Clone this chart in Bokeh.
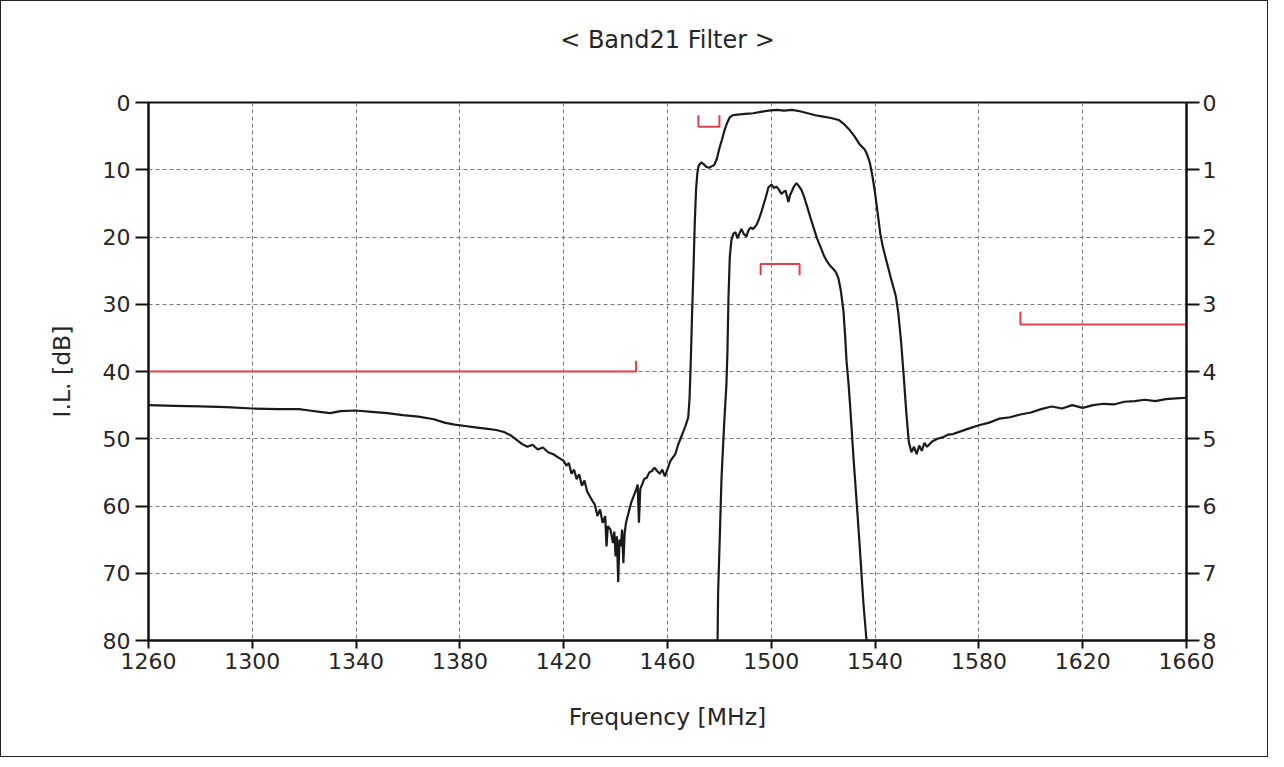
from bokeh.plotting import figure
from bokeh.models import Range1d, LinearAxis, FixedTicker
from bokeh.embed import file_html
from bokeh.resources import INLINE

# ---------------- data ----------------
x_ticks = [1260, 1300, 1340, 1380, 1420, 1460, 1500, 1540, 1580, 1620, 1660]
left_ticks = [0, 10, 20, 30, 40, 50, 60, 70, 80]
right_ticks = [0, 1, 2, 3, 4, 5, 6, 7, 8]

wide_freq = [1260, 1270, 1280, 1290, 1300, 1310, 1318, 1322, 1326, 1330, 1334, 1340, 1346, 1352,
             1358, 1364, 1370, 1374, 1378, 1382, 1386, 1390, 1394, 1397, 1400, 1402, 1404, 1406,
             1408, 1410, 1412, 1414, 1416, 1418, 1420, 1421, 1422, 1423, 1424, 1425, 1426, 1427,
             1428, 1429, 1430, 1431, 1432, 1433, 1434, 1435, 1436, 1436.5, 1437, 1438, 1439,
             1439.5, 1440, 1440.5, 1441, 1441.5, 1442, 1442.5, 1443, 1443.5, 1444, 1445, 1446,
             1447, 1448, 1448.5, 1449, 1449.5, 1450, 1451, 1452, 1453, 1454, 1455, 1456, 1457,
             1458, 1459, 1460, 1461, 1462, 1463, 1464, 1465, 1466, 1467, 1468, 1468.5, 1469,
             1469.5, 1470, 1470.5, 1471, 1471.5, 1472, 1473, 1474, 1475, 1476, 1477, 1478, 1479,
             1480, 1481, 1482, 1483, 1484, 1485, 1487, 1490, 1493, 1496, 1499, 1502, 1505, 1508,
             1511, 1514, 1517, 1520, 1523, 1526, 1528, 1530, 1532, 1534, 1536, 1537, 1538, 1539,
             1540, 1541, 1542, 1543, 1544, 1545, 1546, 1547, 1548, 1549, 1550, 1551, 1552, 1553,
             1554, 1555, 1556, 1557, 1558, 1559, 1560, 1562, 1564, 1566, 1568, 1570, 1573, 1576,
             1580, 1584, 1588, 1592, 1596, 1600, 1604, 1608, 1612, 1616, 1620, 1624, 1628, 1632,
             1636, 1640, 1644, 1648, 1652, 1656, 1660]
wide_db = [45.0, 45.1, 45.2, 45.3, 45.5, 45.6, 45.6, 45.8, 46.0, 46.2, 45.9, 45.8, 46.0, 46.2,
           46.5, 46.7, 47.1, 47.6, 47.9, 48.1, 48.3, 48.5, 48.7, 49.0, 49.6, 50.2, 50.8, 51.2,
           50.9, 51.6, 51.3, 52.0, 52.3, 52.8, 53.3, 54.0, 53.6, 55.2, 54.6, 56.0, 55.3, 57.0,
           56.2, 57.8, 58.5, 59.2, 59.8, 61.5, 60.5, 62.5, 61.5, 66.0, 63.0, 63.5, 65.5,
           63.8, 67.5, 64.5, 71.3, 65.0, 66.0, 63.5, 68.5, 64.0, 62.5, 61.0, 59.5,
           58.5, 57.5, 56.8, 62.5, 57.5, 57.0, 56.0, 55.8, 55.0, 54.8, 54.3, 54.8, 55.2,
           54.6, 55.6, 54.5, 53.4, 52.8, 52.3, 51.0, 50.0, 49.0, 48.0, 46.8, 44.0, 38.0,
           31.0, 25.0, 18.0, 13.0, 10.5, 9.4, 8.9, 9.2, 9.6, 9.7, 9.5, 9.3, 8.4,
           6.8, 5.5, 4.1, 3.0, 2.2, 1.9, 1.8, 1.7, 1.6, 1.4, 1.2, 1.1, 1.2, 1.1,
           1.3, 1.6, 1.9, 2.1, 2.3, 2.6, 3.2, 4.0, 5.0, 6.2, 7.0, 7.8, 9.0, 11.0,
           13.5, 16.5, 19.5, 21.5, 23.0, 24.5, 26.0, 27.4, 28.8, 31.5, 35.5, 40.5, 46.0, 50.5,
           52.0, 51.2, 52.3, 51.0, 51.8, 50.6, 51.2, 50.4, 50.0, 49.8, 49.4, 49.3, 48.9, 48.5,
           48.0, 47.6, 47.0, 46.8, 46.4, 46.1, 45.6, 45.2, 45.5, 45.0, 45.4, 45.0, 44.8, 44.9,
           44.5, 44.4, 44.2, 44.4, 44.1, 44.0, 43.9]

pass_freq = [1479.3, 1479.5, 1480.2, 1480.8, 1481.8, 1482.7, 1483.1, 1483.5, 1484.0, 1484.6,
             1485.4, 1486.2, 1487.0, 1487.6, 1488.5, 1489.3, 1490.4, 1491.2, 1492.0, 1493.0,
             1494.3, 1495.2, 1496.0, 1497.0, 1497.8, 1498.9, 1500.1, 1501.0, 1502.0, 1503.0,
             1503.9, 1504.7, 1505.5, 1506.2, 1506.6, 1507.2, 1507.8, 1508.7, 1509.7, 1510.6,
             1511.6, 1512.6, 1513.6, 1515.0, 1516.3, 1517.6, 1519.0, 1520.2, 1521.3, 1522.5,
             1524.0, 1525.0, 1525.9, 1526.8, 1527.8, 1528.5, 1529.0, 1529.8, 1530.5, 1531.7,
             1533.0, 1534.0, 1535.5, 1536.7]
pass_db = [8.0, 7.3, 6.4, 5.6, 4.8, 4.2, 3.7, 2.9, 2.3, 2.05,
           1.95, 1.93, 2.02, 1.96, 1.88, 1.95, 1.99, 1.90, 1.86, 1.88,
           1.82, 1.74, 1.65, 1.52, 1.42, 1.26, 1.22, 1.27, 1.25, 1.30,
           1.36, 1.33, 1.31, 1.42, 1.48, 1.38, 1.33, 1.25, 1.20, 1.24,
           1.30, 1.40, 1.52, 1.70, 1.86, 2.02, 2.15, 2.27, 2.35, 2.42,
           2.48, 2.53, 2.62, 2.80, 3.10, 3.50, 3.85, 4.20, 4.58, 5.30,
           6.00, 6.56, 7.45, 8.0]

# spec masks (left axis, dB)
spec_low_f = [1260, 1447.9, 1447.9]
spec_low_db = [40.0, 40.0, 38.4]
spec_edge_f = [1471.9, 1471.9, 1480.0, 1480.0]
spec_edge_db = [1.9, 3.6, 3.6, 1.9]
spec_high_f = [1596.0, 1596.0, 1660.0]
spec_high_db = [31.1, 33.0, 33.0]
# spec mask (right axis, passband)
spec_pass_f = [1495.9, 1495.9, 1510.9, 1510.9]
spec_pass_db = [2.57, 2.4, 2.4, 2.57]

title_text = "< Band21 Filter >"
x_label = "Frequency [MHz]"
y_label = "I.L. [dB]"

# ---------------- figure ----------------
FONT = "DejaVu Sans"
FS_TICK = "22px"
FS_LABEL = "23.5px"
FS_TITLE = "24px"
TXT = "#262626"
RED = "#e0404a"

p = figure(width=1268, height=757, output_backend="svg", toolbar_location=None,
           x_range=Range1d(1260, 1660), y_range=Range1d(80, 0),
           min_border_left=147, min_border_right=83, min_border_top=101, min_border_bottom=118,
           background_fill_color="white", border_fill_color="white")
p.styles = {"border": "1px solid #222"}
p.extra_y_ranges = {"right": Range1d(8, 0)}

# a blank second line lifts the title away from the frame
p.title.text = title_text + "\n "
p.title.align = "center"
p.title.vertical_align = "top"
p.title.text_font = FONT
p.title.text_font_size = FS_TITLE
p.title.text_font_style = "normal"
p.title.text_color = TXT
p.title.standoff = 38

p.outline_line_color = "#111111"
p.outline_line_width = 2

# grid
for g in (p.xgrid, p.ygrid):
    g.grid_line_color = "#7a7a7a"
    g.grid_line_dash = "4 3"
    g.grid_line_width = 1
p.xgrid.ticker = FixedTicker(ticks=x_ticks)
p.ygrid.ticker = FixedTicker(ticks=left_ticks)

# axes
xa = p.xaxis[0]
xa.ticker = FixedTicker(ticks=x_ticks)
xa.axis_label = x_label
xa.major_tick_out = 8
xa.major_tick_in = 0
xa.minor_tick_out = 0
xa.major_label_standoff = 4
xa.axis_label_standoff = 31

ya = p.yaxis[0]
ya.ticker = FixedTicker(ticks=left_ticks)
ya.axis_label = y_label
ya.major_tick_out = 13
ya.major_tick_in = 0
ya.minor_tick_out = 0
ya.major_label_standoff = 5
ya.axis_label_standoff = 24

ra = LinearAxis(y_range_name="right", ticker=FixedTicker(ticks=right_ticks))
ra.major_tick_out = 13
ra.major_tick_in = 0
ra.minor_tick_out = 0
ra.major_label_standoff = 3
p.add_layout(ra, "right")

for ax in (xa, ya, ra):
    ax.axis_line_color = "#111111"
    ax.axis_line_width = 2
    ax.major_tick_line_color = "#111111"
    ax.major_tick_line_width = 2
    ax.major_label_text_font = FONT
    ax.major_label_text_font_size = FS_TICK
    ax.major_label_text_color = TXT
    ax.axis_label_text_font = FONT
    ax.axis_label_text_font_size = FS_LABEL
    ax.axis_label_text_font_style = "normal"
    ax.axis_label_text_color = TXT

# curves
p.line(wide_freq, wide_db, line_color="#1a1a1a", line_width=2.2)
p.line(pass_freq, pass_db, line_color="#1a1a1a", line_width=2.2, y_range_name="right")

# spec masks
p.line(spec_low_f, spec_low_db, line_color=RED, line_width=2)
p.line(spec_edge_f, spec_edge_db, line_color=RED, line_width=2)
p.line(spec_high_f, spec_high_db, line_color=RED, line_width=2)
p.line(spec_pass_f, spec_pass_db, line_color=RED, line_width=2, y_range_name="right")

open("out.html", "w").write(file_html(p, INLINE))
